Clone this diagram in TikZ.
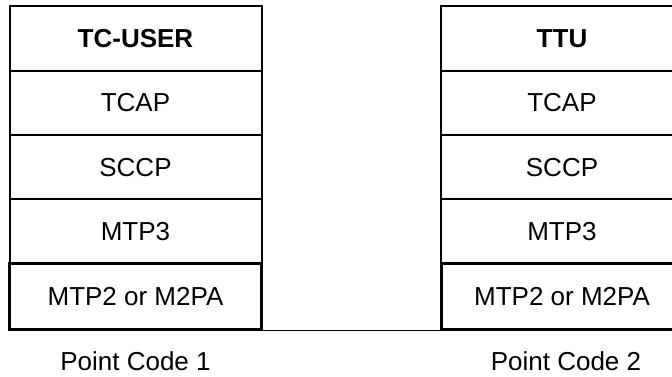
\documentclass[tikz,border=0pt]{standalone}
\usepackage{fontspec}
\setmainfont{Liberation Sans}
\begin{document}
\begin{tikzpicture}[x=1pt,y=-1pt,
  layer/.style={draw, line width=2pt, inner sep=0pt, align=center,
    font=\fontsize{26}{30}\selectfont},
  lowlayer/.style={layer, line width=3pt},
  lcol/.style={minimum width=252pt},
  rcol/.style={minimum width=242pt},
  caption/.style={inner sep=0pt, font=\fontsize{26}{30}\selectfont}]
\useasboundingbox (0,0) rectangle (672,376);
\clip (0,0) rectangle (672,376);
% left stack
\node[layer,lcol,minimum height=65pt]   (luser) at (135.5,38.2)   {\textbf{TC-USER}};
\node[layer,lcol,minimum height=64.3pt] (ltcap) at (135.5,102.85) {TCAP};
\node[layer,lcol,minimum height=64.3pt] (lsccp) at (135.5,167.15) {SCCP};
\node[layer,lcol,minimum height=64pt]   (lmtp3) at (135.5,231.3)  {MTP3};
\node[lowlayer,lcol,minimum height=65.7pt] (lmtp2) at (135.5,296.15) {MTP2 or M2PA};
% right stack
\node[layer,rcol,minimum height=65pt]   (ruser) at (562,38.2)   {\textbf{TTU}};
\node[layer,rcol,minimum height=64.3pt] (rtcap) at (562,102.85) {TCAP};
\node[layer,rcol,minimum height=64.3pt] (rsccp) at (562,167.15) {SCCP};
\node[layer,rcol,minimum height=64pt]   (rmtp3) at (562,231.3)  {MTP3};
\node[lowlayer,rcol,minimum height=65.7pt] (rmtp2) at (562,296.15) {MTP2 or M2PA};
% link
\draw[line width=1.5pt] (lmtp2.south east) -- (rmtp2.south west);
% captions
\node[caption] (pc1) at (135.5,361) {Point Code 1};
\node[caption] (pc2) at (566,361) {Point Code 2};
\end{tikzpicture}
\end{document}
